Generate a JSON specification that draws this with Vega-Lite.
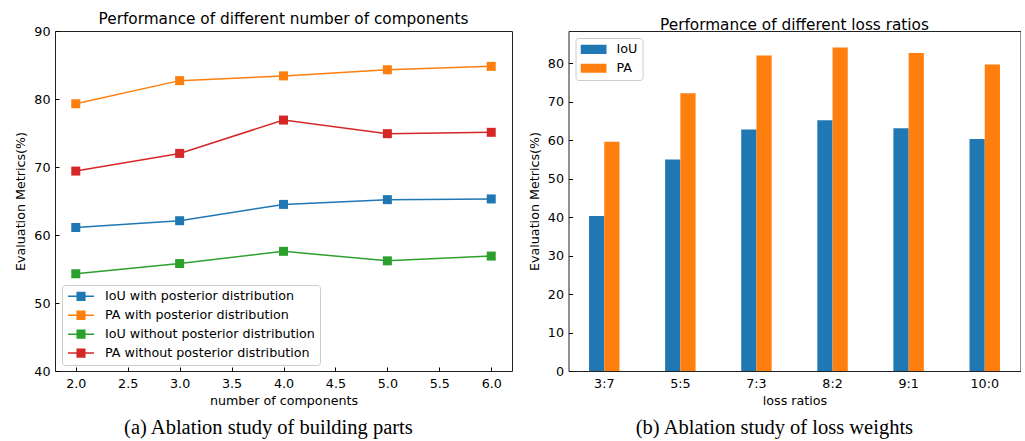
{
  "$schema": "https://vega.github.io/schema/vega-lite/v6.json",
  "padding": {"left": 14, "top": 11, "right": 0, "bottom": 0},
  "spacing": 14.5,
  "config": {
    "font": "DejaVu Sans",
    "view": {"stroke": "#222222", "strokeWidth": 1},
    "axis": {
      "domain": false,
      "grid": false,
      "ticks": true,
      "tickSize": -4,
      "tickColor": "#000000",
      "tickWidth": 1,
      "labelColor": "#000000",
      "labelFontSize": 12.7,
      "titleColor": "#000000",
      "titleFontSize": 12.7,
      "titleFontWeight": "normal"
    },
    "axisX": {"labelPadding": 10, "titlePadding": 5},
    "axisY": {"labelPadding": 9, "titlePadding": 6},
    "legend": {"labelLimit": 0},
    "title": {"fontSize": 15.3, "fontWeight": "normal", "color": "#000000"}
  },
  "resolve": {"scale": {"color": "independent"}, "legend": {"color": "independent"}},
  "hconcat": [
    {
      "title": {
        "text": "(a) Ablation study of building parts",
        "orient": "bottom",
        "anchor": "middle",
        "frame": "bounds",
        "font": "Liberation Serif",
        "fontSize": 20.5,
        "offset": 10,
        "dx": 5
      },
      "resolve": {"scale": {"color": "independent"}, "legend": {"color": "independent"}},
      "vconcat": [
        {
          "width": 457,
          "height": 340,
          "title": {"text": "Performance of different number of components", "offset": -2},
          "data": {
            "values": [
              {"n": 2, "series": "IoU with posterior distribution", "value": 61.1},
              {"n": 3, "series": "IoU with posterior distribution", "value": 62.1},
              {"n": 4, "series": "IoU with posterior distribution", "value": 64.5},
              {"n": 5, "series": "IoU with posterior distribution", "value": 65.2},
              {"n": 6, "series": "IoU with posterior distribution", "value": 65.3},
              {"n": 2, "series": "PA with posterior distribution", "value": 79.3},
              {"n": 3, "series": "PA with posterior distribution", "value": 82.7},
              {"n": 4, "series": "PA with posterior distribution", "value": 83.4},
              {"n": 5, "series": "PA with posterior distribution", "value": 84.3},
              {"n": 6, "series": "PA with posterior distribution", "value": 84.8},
              {"n": 2, "series": "IoU without posterior distribution", "value": 54.3},
              {"n": 3, "series": "IoU without posterior distribution", "value": 55.8},
              {"n": 4, "series": "IoU without posterior distribution", "value": 57.6},
              {"n": 5, "series": "IoU without posterior distribution", "value": 56.2},
              {"n": 6, "series": "IoU without posterior distribution", "value": 56.9},
              {"n": 2, "series": "PA without posterior distribution", "value": 69.4},
              {"n": 3, "series": "PA without posterior distribution", "value": 72.0},
              {"n": 4, "series": "PA without posterior distribution", "value": 76.9},
              {"n": 5, "series": "PA without posterior distribution", "value": 74.9},
              {"n": 6, "series": "PA without posterior distribution", "value": 75.1}
            ]
          },
          "layer": [
            {
              "mark": {"type": "line", "strokeWidth": 1.5},
              "encoding": {
                "x": {
                  "field": "n",
                  "type": "quantitative",
                  "scale": {"domain": [1.8, 6.2], "nice": false, "zero": false},
                  "axis": {"title": "number of components", "values": [2, 2.5, 3, 3.5, 4, 4.5, 5, 5.5, 6], "format": ".1f"}
                },
                "y": {
                  "field": "value",
                  "type": "quantitative",
                  "scale": {"domain": [40, 90], "nice": false, "zero": false},
                  "axis": {"title": "Evaluation Metrics(%)", "values": [40, 50, 60, 70, 80, 90]}
                },
                "color": {
                  "field": "series",
                  "type": "nominal",
                  "scale": {
                    "domain": ["IoU with posterior distribution", "PA with posterior distribution", "IoU without posterior distribution", "PA without posterior distribution"],
                    "range": ["#1f77b4", "#ff7f0e", "#2ca02c", "#d62728"]
                  },
                  "legend": {
                    "title": null,
                    "orient": "bottom-left",
                    "offset": 6.5,
                    "padding": 5,
                    "strokeColor": "#cccccc",
                    "fillColor": "rgba(255,255,255,0.8)",
                    "cornerRadius": 3,
                    "symbolType": "M-1,0H1M-0.35,-0.3H0.35M-0.35,-0.2H0.35M-0.35,-0.1H0.35M-0.35,0.1H0.35M-0.35,0.2H0.35M-0.35,0.3H0.35",
                    "symbolSize": 676,
                    "symbolStrokeWidth": 1.5,
                    "labelFontSize": 12.7,
                    "labelColor": "#000000",
                    "labelOffset": 10,
                    "labelLimit": 0,
                    "rowPadding": 4.9,
                    "clipHeight": 12.7
                  }
                }
              }
            },
            {
              "mark": {"type": "point", "shape": "square", "filled": true, "size": 81, "opacity": 1},
              "encoding": {
                "x": {"field": "n", "type": "quantitative"},
                "y": {"field": "value", "type": "quantitative"},
                "color": {"field": "series", "type": "nominal"}
              }
            }
          ]
        }
      ]
    },
    {
      "title": {
        "text": "(b) Ablation study of loss weights",
        "orient": "bottom",
        "anchor": "middle",
        "frame": "bounds",
        "font": "Liberation Serif",
        "fontSize": 20.5,
        "offset": 10
      },
      "resolve": {"scale": {"color": "independent"}, "legend": {"color": "independent"}},
      "vconcat": [
        {
          "width": 452,
          "height": 340,
          "title": {"text": "Performance of different loss ratios", "offset": -2},
          "data": {
            "values": [
              {"ratio": "3:7", "metric": "IoU", "value": 40.3},
              {"ratio": "3:7", "metric": "PA", "value": 59.6},
              {"ratio": "5:5", "metric": "IoU", "value": 55.0},
              {"ratio": "5:5", "metric": "PA", "value": 72.2},
              {"ratio": "7:3", "metric": "IoU", "value": 62.8},
              {"ratio": "7:3", "metric": "PA", "value": 82.0},
              {"ratio": "8:2", "metric": "IoU", "value": 65.2},
              {"ratio": "8:2", "metric": "PA", "value": 84.1},
              {"ratio": "9:1", "metric": "IoU", "value": 63.1},
              {"ratio": "9:1", "metric": "PA", "value": 82.7},
              {"ratio": "10:0", "metric": "IoU", "value": 60.3},
              {"ratio": "10:0", "metric": "PA", "value": 79.7}
            ]
          },
          "mark": {"type": "bar"},
          "encoding": {
            "x": {
              "field": "ratio",
              "type": "nominal",
              "sort": ["3:7", "5:5", "7:3", "8:2", "9:1", "10:0"],
              "scale": {"paddingInner": 0.6, "paddingOuter": 0.27},
              "axis": {"title": "loss ratios", "labelAngle": 0, "bandPosition": 0.75}
            },
            "xOffset": {
              "field": "metric",
              "type": "nominal",
              "sort": ["IoU", "PA"],
              "scale": {"paddingInner": 0, "paddingOuter": 0}
            },
            "y": {
              "field": "value",
              "type": "quantitative",
              "scale": {"domain": [0, 88.4], "nice": false},
              "axis": {"title": "Evaluation Metrics(%)", "values": [0, 10, 20, 30, 40, 50, 60, 70, 80]}
            },
            "color": {
              "field": "metric",
              "type": "nominal",
              "scale": {"domain": ["IoU", "PA"], "range": ["#1f77b4", "#ff7f0e"]},
              "legend": {
                "title": null,
                "orient": "top-left",
                "offset": 6.5,
                "padding": 5,
                "strokeColor": "#cccccc",
                "fillColor": "rgba(255,255,255,0.8)",
                "cornerRadius": 3,
                "symbolType": "M-1,-0.35H1V0.35H-1Z",
                "symbolSize": 676,
                "symbolStrokeWidth": 0,
                "labelFontSize": 12.7,
                "labelColor": "#000000",
                "labelOffset": 10,
                "rowPadding": 4.9,
                "clipHeight": 12.7
              }
            }
          }
        }
      ]
    }
  ]
}
